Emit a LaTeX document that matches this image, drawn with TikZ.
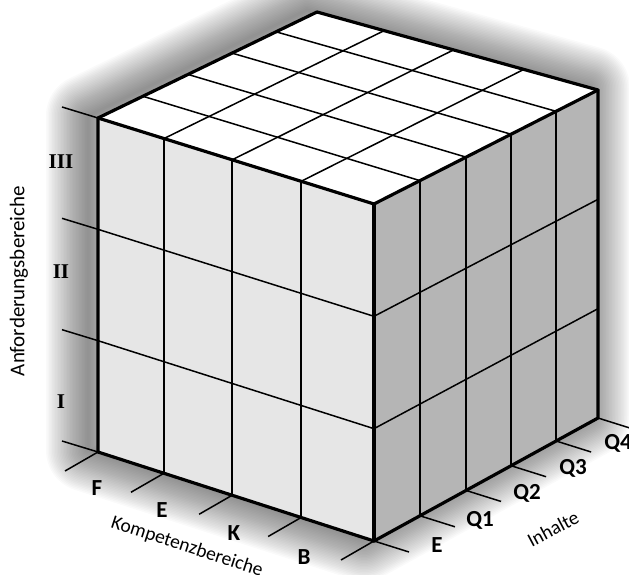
\documentclass[tikz,border=0pt]{standalone}
\usepackage{fontspec}
\newfontfamily\sansf{Carlito}
\newfontfamily\serf{Liberation Serif}
\usetikzlibrary{calc}
\definecolor{leftc}{HTML}{E6E6E6}
\definecolor{rightc}{HTML}{B5B5B5}
\begin{document}
\begin{tikzpicture}[x=1pt,y=-1pt,
  edge/.style={line width=3.2pt, line join=round, line cap=round},
  gridl/.style={line width=1.5pt},
  tickl/.style={line width=1.5pt},
  roman/.style={font=\serf\bfseries\fontsize{21}{25}\selectfont},
  lab/.style={font=\sansf\bfseries\fontsize{23}{27}\selectfont},
  axis/.style={font=\sansf\fontsize{19.5}{23}\selectfont}]
\useasboundingbox (0,0) rectangle (629,575);
\clip (0,0) rectangle (629,575);
\coordinate (A) at (98,118);
\coordinate (B) at (317,12);
\coordinate (R) at (598,90);
\coordinate (F) at (374,204);
\coordinate (Ab) at (98,452);
\coordinate (Fb) at (374,541);
\coordinate (Rb) at (598,418);
% soft shadow
\foreach \w in {3,6,...,84}
  \draw[line width=\w pt, line join=round, black, opacity=0.021]
    ([shift={(-10,-2)}]A) -- ([shift={(-10,-2)}]B) -- ([shift={(-10,-2)}]R) --
    ([shift={(-10,-2)}]Rb) -- ([shift={(-10,-2)}]Fb) -- ([shift={(-10,-2)}]Ab) -- cycle;
% faces
\fill[leftc] (A) -- (F) -- (Fb) -- (Ab) -- cycle;
\fill[rightc] (F) -- (R) -- (Rb) -- (Fb) -- cycle;
\fill[white] (A) -- (B) -- (R) -- (F) -- cycle;
% grid
\foreach \t in {0.239,0.486,0.736} {
  \draw[gridl] ($(A)!\t!(F)$) -- ($(Ab)!\t!(Fb)$);
  \draw[gridl] ($(A)!\t!(F)$) -- ($(B)!\t!(R)$);
  \draw[tickl] ($(Ab)!\t!(Fb)$) -- ++(-33,19);
}
\foreach \t in {0.205,0.411,0.612,0.813} {
  \draw[gridl] ($(F)!\t!(R)$) -- ($(Fb)!\t!(Rb)$);
  \draw[gridl] ($(F)!\t!(R)$) -- ($(A)!\t!(B)$);
  \draw[tickl] ($(Fb)!\t!(Rb)$) -- ++(35,11);
}
\foreach \t in {0.3333,0.6667} {
  \draw[gridl] ($(A)!\t!(Ab)$) -- ($(F)!\t!(Fb)$) -- ($(R)!\t!(Rb)$);
}
\foreach \t in {0,0.3333,0.6667,1} {
  \draw[tickl] ($(A)!\t!(Ab)$) -- ++(-36,-11);
}
\draw[tickl] (Ab) -- ++(-33,19);
\draw[tickl] (Fb) -- ++(-33,19);
\draw[tickl] (Fb) -- ++(35,11);
\draw[tickl] (Rb) -- ++(35,11);
% edges
\draw[edge] (A) -- (B) -- (R) -- (Rb) -- (Fb) -- (Ab) -- cycle;
\draw[edge] (A) -- (F) -- (R);
\draw[edge] (F) -- (Fb);
% labels
\node[roman] (l3) at (61,162) {III};
\node[roman] (l2) at (61,272) {II};
\node[roman] (l1) at (61,402) {I};
\node[axis, font=\sansf\fontsize{21}{25}\selectfont, rotate=90] (ya) at (19,281) {Anforderungsbereiche};
\node[lab] (kF) at (97,488) {F};
\node[lab] (kE) at (162,510) {E};
\node[lab] (kK) at (234,533) {K};
\node[lab] (kB) at (304,557) {B};
\node[axis, rotate=-18] (xa) at (187,547) {Kompetenzbereiche};
\node[lab] (iE) at (437,545) {E};
\node[lab] (q1) at (480,520) {Q1};
\node[lab] (q2) at (527,493) {Q2};
\node[lab] (q3) at (573,468) {Q3};
\node[lab] (q4) at (618,443) {Q4};
\node[axis, rotate=28] (za) at (553,529) {Inhalte};
\end{tikzpicture}
\end{document}
